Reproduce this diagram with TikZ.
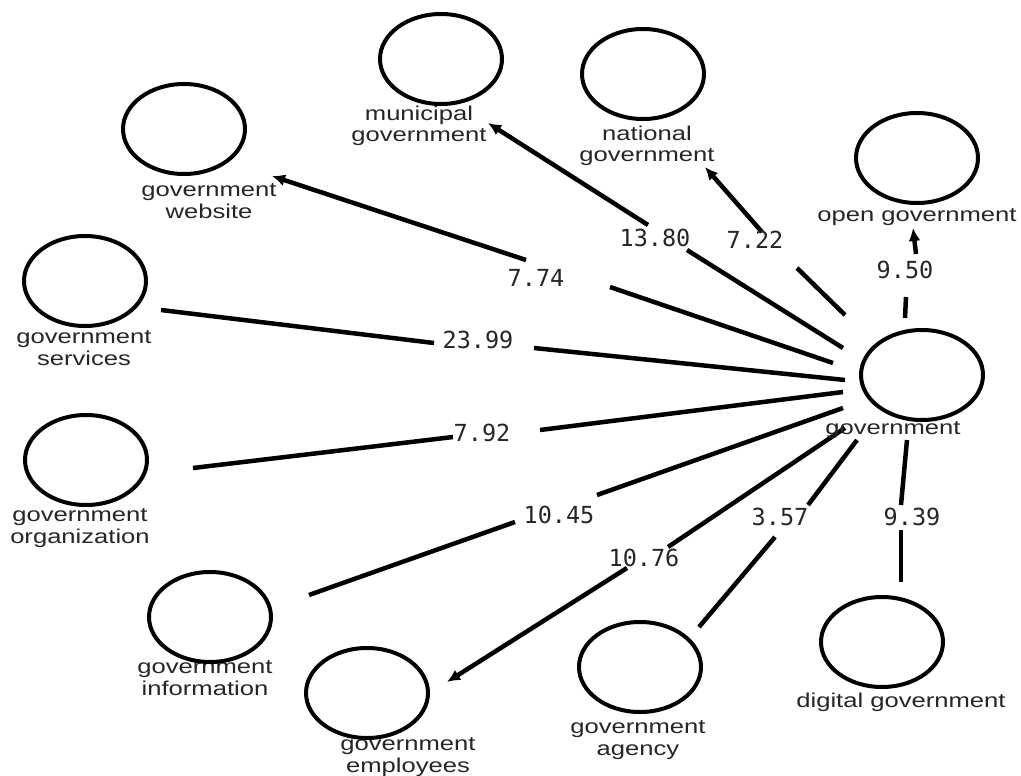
\documentclass[tikz,border=0pt]{standalone}
\usepackage{fontspec}
\usetikzlibrary{shapes.geometric,arrows.meta}
\newfontfamily\lblfont{Liberation Sans}[FakeStretch=1.28]
\newfontfamily\numfont{DejaVu Sans Mono}
\begin{document}
\begin{tikzpicture}[x=1pt,y=-1pt,
  circ/.style={ellipse,draw,fill=white,line width=4pt,minimum width=122pt,minimum height=90pt,inner sep=0pt},
  lbl/.style={font=\lblfont\fontsize{20}{21.5}\selectfont,align=center,inner sep=0pt,text=black!85},
  num/.style={font=\numfont\fontsize{23.5}{26}\selectfont,inner sep=0pt,text=black!85},
  edge/.style={line width=4.5pt},
  arr/.style={line width=4.5pt,-{Latex[length=13pt,width=12pt]}}
]
\useasboundingbox[fill=white] (0,0) rectangle (1021,776);

% ---- edge end points ----
\coordinate (wA1) at (833,363); \coordinate (wA2) at (610,287);
\coordinate (wB1) at (526,260); \coordinate (wB2) at (272,176);
\coordinate (mA1) at (843,348); \coordinate (mA2) at (687,250);
\coordinate (mB1) at (648,225); \coordinate (mB2) at (488,123);
\coordinate (nA1) at (845,315); \coordinate (nA2) at (797,268);
\coordinate (nB1) at (762,232); \coordinate (nB2) at (705,167);
\coordinate (oA1) at (905,318); \coordinate (oA2) at (906,297);
\coordinate (oB1) at (916,254); \coordinate (oB2) at (913,228);
\coordinate (sA1) at (845,380); \coordinate (sA2) at (534,348);
\coordinate (sB1) at (434,343); \coordinate (sB2) at (161,310);
\coordinate (gA1) at (843,392); \coordinate (gA2) at (540,430);
\coordinate (gB1) at (453,437); \coordinate (gB2) at (193,468);
\coordinate (iA1) at (843,408); \coordinate (iA2) at (597,495);
\coordinate (iB1) at (515,522); \coordinate (iB2) at (309,595);
\coordinate (eA1) at (845,428); \coordinate (eA2) at (668,547);
\coordinate (eB1) at (627,568); \coordinate (eB2) at (447,682);
\coordinate (aA1) at (857,440); \coordinate (aA2) at (808,505);
\coordinate (aB1) at (775,537); \coordinate (aB2) at (699,627);
\coordinate (dA1) at (907,440); \coordinate (dA2) at (901,505);
\coordinate (dB1) at (901,530); \coordinate (dB2) at (901,582);

% ---- connectors ----
\draw[edge] (wA1) -- (wA2); \draw[arr] (wB1) -- (wB2);
\draw[edge] (mA1) -- (mA2); \draw[arr] (mB1) -- (mB2);
\draw[edge] (nA1) -- (nA2); \draw[arr] (nB1) -- (nB2);
\draw[edge] (oA1) -- (oA2); \draw[arr] (oB1) -- (oB2);
\draw[edge] (sA1) -- (sA2); \draw[edge] (sB1) -- (sB2);
\draw[edge] (gA1) -- (gA2); \draw[edge] (gB1) -- (gB2);
\draw[edge] (iA1) -- (iA2); \draw[edge] (iB1) -- (iB2);
\draw[edge] (eA1) -- (eA2); \draw[arr] (eB1) -- (eB2);
\draw[edge] (aA1) -- (aA2); \draw[edge] (aB1) -- (aB2);
\draw[edge] (dA1) -- (dA2); \draw[edge] (dB1) -- (dB2);

% ---- weights ----
\node[num] (w774) at (536,278) {7.74};
\node[num] (w1380) at (655,238) {13.80};
\node[num] (w722) at (755,240) {7.22};
\node[num] (w950) at (905,270) {9.50};
\node[num] (w2399) at (478,340) {23.99};
\node[num] (w792) at (482,433) {7.92};
\node[num] (w1045) at (559,515) {10.45};
\node[num] (w1076) at (644,558) {10.76};
\node[num] (w357) at (780,517) {3.57};
\node[num] (w939) at (912,517) {9.39};

% ---- labels ----
\node[lbl] (govL) at (893,430) {government};
\node[lbl] (openL) at (917,217) {open government};
\node[lbl] (natL) at (647,146) {national\\government};
\node[lbl] (munL) at (419,126) {municipal\\government};
\node[lbl] (webL) at (209,201) {government\\website};
\node[lbl] (serL) at (84,348) {government\\services};
\node[lbl] (orgL) at (80,528) {government\\organization};
\node[lbl] (infL) at (205,678) {government\\information};
\node[lbl] (empL) at (408,757) {government\\employees};
\node[lbl] (ageL) at (638,740) {government\\agency};
\node[lbl] (digL) at (901,702) {digital government};

% ---- circles ----
\node[circ] (gov) at (922,375) {};
\node[circ] (open) at (917,158) {};
\node[circ] (nat) at (643,74) {};
\node[circ] (mun) at (441,59) {};
\node[circ] (web) at (184,129) {};
\node[circ] (ser) at (85,281) {};
\node[circ] (org) at (86,460) {};
\node[circ] (inf) at (210,617) {};
\node[circ] (emp) at (367,693) {};
\node[circ] (age) at (640,667) {};
\node[circ] (dig) at (882,642) {};
\end{tikzpicture}
\end{document}
